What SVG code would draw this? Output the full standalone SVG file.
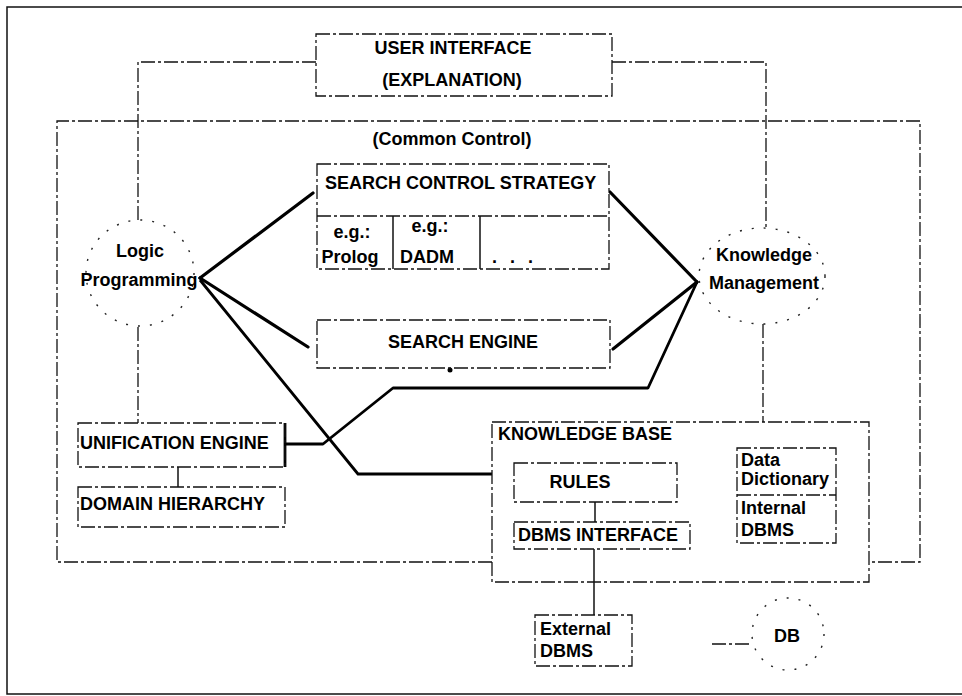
<svg xmlns="http://www.w3.org/2000/svg" width="962" height="696" viewBox="0 0 962 696">
<style>
text{font-family:"Liberation Sans",Arial,sans-serif;font-weight:bold;font-size:18px;fill:#000;dominant-baseline:central}
.c{text-anchor:middle}
.box{fill:none;stroke:#111;stroke-width:1.3;stroke-dasharray:14 3 3 3}
.thin{fill:none;stroke:#111;stroke-width:1.3;stroke-dasharray:14 3 3 3}
.solid{fill:none;stroke:#111;stroke-width:1.5}
.thick{fill:none;stroke:#000;stroke-width:3.2;stroke-linejoin:round;stroke-linecap:round}
.med{fill:none;stroke:#000;stroke-width:2.8;stroke-linejoin:round}
.ell{fill:none;stroke:#222;stroke-width:1.4;stroke-dasharray:2 10}
</style>
<g id="frame">
<polyline class="solid" points="962,7 7,7 7,694 962,694" stroke-width="2"/>
</g>
<g id="connectors">
<polyline class="thin" points="316,62 138,62 138,220"/>
<polyline class="thin" points="612,62 766,62 766,228"/>
<polyline class="thin" points="492,562 57,562 57,121 920,121 920,562 869,562"/>
<line class="thin" x1="138" y1="327" x2="138" y2="423"/>
<line class="thin" x1="763" y1="324" x2="763" y2="422"/>
<line class="solid" x1="178" y1="467" x2="178" y2="487"/>
<line class="solid" x1="595" y1="502" x2="595" y2="522"/>
<line class="solid" x1="594" y1="549" x2="594" y2="615"/>
<line class="thin" x1="712" y1="644" x2="752" y2="644" stroke-dasharray="5 6"/>
<line class="thick" x1="200" y1="278" x2="313" y2="193"/>
<line class="thick" x1="200" y1="278" x2="308" y2="347"/>
<polyline class="med" points="200,280 358,474 492,474"/>
<line class="thick" x1="610" y1="192" x2="697" y2="282"/>
<line class="thick" x1="613" y1="349" x2="697" y2="282"/>
<polyline class="med" points="285,444 323,444 393,388 648,388 697,282"/>
<line class="med" x1="285" y1="423" x2="285" y2="467"/>
<circle cx="450" cy="370" r="2.5" fill="#000"/>
</g>
<g id="user-interface">
<rect class="box" x="316" y="34" width="296" height="62"/>
<text class="c" x="453" y="48">USER INTERFACE</text>
<text class="c" x="452" y="80">(EXPLANATION)</text>
</g>
<g id="common-control">
<text class="c" x="452" y="139">(Common Control)</text>
</g>
<g id="search-control-strategy">
<rect class="box" x="317" y="164" width="292" height="105"/>
<line class="thin" x1="317" y1="216" x2="609" y2="216"/>
<line class="solid" x1="393" y1="216" x2="393" y2="269"/>
<line class="solid" x1="480" y1="216" x2="480" y2="269"/>
<text x="325" y="183">SEARCH CONTROL STRATEGY</text>
<text class="c" x="352" y="232">e.g.:</text>
<text class="c" x="350" y="257">Prolog</text>
<text class="c" x="430" y="226">e.g.:</text>
<text x="400" y="257">DADM</text>
<text x="492" y="257" letter-spacing="4">. . .</text>
</g>
<g id="search-engine">
<rect class="box" x="317" y="320" width="293" height="48"/>
<text class="c" x="463" y="342">SEARCH ENGINE</text>
</g>
<g id="logic-programming">
<ellipse class="ell" cx="140" cy="273" rx="54" ry="53"/>
<text class="c" x="140" y="251">Logic</text>
<text class="c" x="139" y="280">Programming</text>
</g>
<g id="knowledge-management">
<ellipse class="ell" cx="762" cy="276" rx="63" ry="48" stroke-dasharray="6 8"/>
<text class="c" x="764" y="255">Knowledge</text>
<text class="c" x="764" y="283">Management</text>
</g>
<g id="unification-engine">
<rect class="box" x="78" y="423" width="207" height="44"/>
<text x="80" y="443">UNIFICATION ENGINE</text>
</g>
<g id="domain-hierarchy">
<rect class="box" x="78" y="487" width="207" height="40"/>
<text x="80" y="504">DOMAIN HIERARCHY</text>
</g>
<g id="knowledge-base">
<rect class="box" x="492" y="422" width="377" height="160"/>
<text x="498" y="434">KNOWLEDGE BASE</text>
</g>
<g id="rules">
<rect class="box" x="514" y="463" width="163" height="39"/>
<text class="c" x="580" y="482">RULES</text>
</g>
<g id="dbms-interface">
<rect class="box" x="514" y="522" width="176" height="27"/>
<text x="518" y="535">DBMS INTERFACE</text>
</g>
<g id="data-dictionary">
<rect class="box" x="737" y="448" width="99" height="95"/>
<line class="thin" x1="737" y1="495" x2="836" y2="495"/>
<text x="741" y="460">Data</text>
<text x="741" y="479">Dictionary</text>
<text x="741" y="508">Internal</text>
<text x="741" y="530">DBMS</text>
</g>
<g id="external-dbms">
<rect class="box" x="535" y="615" width="97" height="51"/>
<text x="540" y="629">External</text>
<text x="540" y="651">DBMS</text>
</g>
<g id="db">
<ellipse class="ell" cx="788" cy="634" rx="36" ry="36" stroke-dasharray="6 7"/>
<text class="c" x="787" y="636">DB</text>
</g>
</svg>
